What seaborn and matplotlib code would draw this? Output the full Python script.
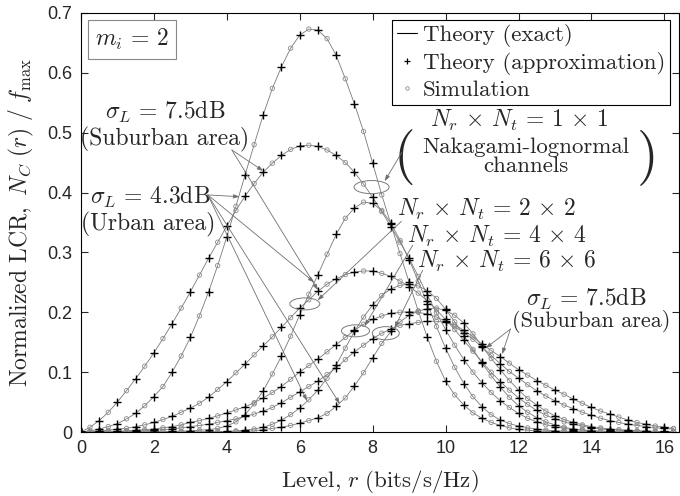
import numpy as np
import pandas as pd
import matplotlib
matplotlib.use("Agg")
import matplotlib.pyplot as plt
import seaborn as sns
from matplotlib.lines import Line2D
from matplotlib.patches import Ellipse

# ---------------- data ----------------
r_level = [round(0.25 * k, 2) for k in range(66)]  # 0 .. 16.25

lcr_1x1_urban = [0.0, 0.002, 0.005, 0.009, 0.014, 0.022, 0.031, 0.044, 0.059, 0.076,
                 0.100, 0.127, 0.158, 0.194, 0.234, 0.278, 0.326, 0.377, 0.429, 0.480,
                 0.530, 0.574, 0.610, 0.641, 0.663, 0.673, 0.671, 0.657, 0.629, 0.590,
                 0.548, 0.502, 0.449, 0.396, 0.347, 0.298, 0.250, 0.202, 0.158, 0.118,
                 0.085, 0.062, 0.045, 0.032, 0.023, 0.016, 0.011, 0.007, 0.0045, 0.003,
                 0.002, 0.001, 0.0007, 0.0005, 0.0003, 0.0002, 0.0001, 0.0001, 0.0001, 0.0,
                 0.0, 0.0, 0.0, 0.0, 0.0, 0.0]
lcr_1x1_suburban = [0.0, 0.008, 0.019, 0.033, 0.050, 0.069, 0.089, 0.110, 0.132, 0.156,
                    0.181, 0.207, 0.234, 0.262, 0.290, 0.317, 0.344, 0.370, 0.394, 0.415,
                    0.434, 0.449, 0.462, 0.472, 0.478, 0.479, 0.477, 0.471, 0.462, 0.450,
                    0.434, 0.414, 0.392, 0.368, 0.343, 0.317, 0.290, 0.260, 0.229, 0.199,
                    0.171, 0.145, 0.121, 0.100, 0.082, 0.066, 0.052, 0.041, 0.031, 0.023,
                    0.017, 0.012, 0.009, 0.006, 0.004, 0.003, 0.002, 0.0015, 0.001, 0.0007,
                    0.0005, 0.0003, 0.0002, 0.0001, 0.0001, 0.0]
lcr_2x2_urban = [0.0, 0.0, 0.0, 0.0, 0.0001, 0.0001, 0.0002, 0.0003, 0.0005, 0.0007,
                 0.001, 0.0015, 0.002, 0.003, 0.004, 0.006, 0.010, 0.017, 0.029, 0.047,
                 0.069, 0.097, 0.127, 0.160, 0.196, 0.230, 0.263, 0.297, 0.330, 0.357,
                 0.374, 0.384, 0.382, 0.370, 0.349, 0.320, 0.288, 0.252, 0.214, 0.176,
                 0.140, 0.108, 0.081, 0.059, 0.042, 0.029, 0.020, 0.014, 0.010, 0.007,
                 0.005, 0.003, 0.002, 0.0015, 0.001, 0.0007, 0.0005, 0.0003, 0.0002, 0.0001,
                 0.0001, 0.0, 0.0, 0.0, 0.0, 0.0]
lcr_2x2_suburban = [0.0, 0.001, 0.002, 0.003, 0.005, 0.006, 0.009, 0.012, 0.016, 0.021,
                    0.026, 0.033, 0.040, 0.048, 0.058, 0.071, 0.084, 0.099, 0.113, 0.129,
                    0.144, 0.159, 0.175, 0.191, 0.207, 0.221, 0.235, 0.247, 0.256, 0.263,
                    0.267, 0.269, 0.269, 0.265, 0.260, 0.252, 0.243, 0.232, 0.219, 0.204,
                    0.188, 0.171, 0.153, 0.135, 0.117, 0.100, 0.084, 0.070, 0.057, 0.046,
                    0.036, 0.028, 0.022, 0.017, 0.013, 0.010, 0.007, 0.005, 0.004, 0.003,
                    0.002, 0.0015, 0.001, 0.001, 0.0005, 0.0005]
lcr_4x4_urban = [0.0, 0.0, 0.0, 0.0, 0.0, 0.0, 0.0, 0.0, 0.0, 0.0,
                 0.0, 0.0, 0.0001, 0.0002, 0.0003, 0.0005, 0.001, 0.002, 0.003, 0.005,
                 0.008, 0.013, 0.020, 0.029, 0.040, 0.054, 0.070, 0.090, 0.112, 0.140,
                 0.168, 0.192, 0.212, 0.228, 0.239, 0.245, 0.247, 0.244, 0.236, 0.223,
                 0.205, 0.184, 0.161, 0.138, 0.115, 0.094, 0.075, 0.058, 0.044, 0.033,
                 0.024, 0.017, 0.012, 0.008, 0.005, 0.004, 0.002, 0.0015, 0.001, 0.0007,
                 0.0005, 0.0003, 0.0002, 0.0001, 0.0001, 0.0]
lcr_4x4_suburban = [0.0, 0.0003, 0.0006, 0.001, 0.0015, 0.002, 0.003, 0.004, 0.005, 0.007,
                    0.009, 0.012, 0.016, 0.019, 0.023, 0.027, 0.032, 0.037, 0.042, 0.049,
                    0.057, 0.066, 0.076, 0.088, 0.100, 0.111, 0.122, 0.134, 0.146, 0.158,
                    0.170, 0.180, 0.188, 0.194, 0.198, 0.200, 0.201, 0.200, 0.197, 0.192,
                    0.185, 0.176, 0.166, 0.155, 0.142, 0.128, 0.114, 0.101, 0.090, 0.079,
                    0.069, 0.060, 0.052, 0.045, 0.039, 0.033, 0.028, 0.023, 0.019, 0.016,
                    0.013, 0.011, 0.009, 0.007, 0.006, 0.005]
lcr_6x6_urban = [0.0, 0.0, 0.0, 0.0, 0.0, 0.0, 0.0, 0.0, 0.0, 0.0,
                 0.0, 0.0, 0.0, 0.0, 0.0001, 0.0002, 0.0004, 0.0007, 0.001, 0.002,
                 0.004, 0.006, 0.008, 0.011, 0.015, 0.019, 0.024, 0.031, 0.043, 0.057,
                 0.077, 0.099, 0.124, 0.148, 0.168, 0.184, 0.195, 0.202, 0.206, 0.207,
                 0.203, 0.195, 0.182, 0.164, 0.143, 0.123, 0.104, 0.086, 0.070, 0.056,
                 0.045, 0.035, 0.027, 0.021, 0.016, 0.012, 0.009, 0.007, 0.005, 0.004,
                 0.003, 0.002, 0.0015, 0.001, 0.001, 0.0005]
lcr_6x6_suburban = [0.0, 0.0001, 0.0002, 0.0004, 0.0007, 0.001, 0.0015, 0.002, 0.003, 0.004,
                    0.005, 0.007, 0.009, 0.011, 0.013, 0.016, 0.019, 0.022, 0.026, 0.030,
                    0.035, 0.041, 0.049, 0.058, 0.067, 0.076, 0.085, 0.096, 0.107, 0.121,
                    0.134, 0.145, 0.156, 0.165, 0.172, 0.178, 0.181, 0.183, 0.185, 0.185,
                    0.183, 0.179, 0.170, 0.159, 0.147, 0.136, 0.126, 0.115, 0.104, 0.095,
                    0.086, 0.078, 0.070, 0.063, 0.055, 0.048, 0.041, 0.035, 0.030, 0.025,
                    0.020, 0.016, 0.013, 0.010, 0.008, 0.006]

curves = {
    "1x1 U": lcr_1x1_urban, "1x1 S": lcr_1x1_suburban,
    "2x2 U": lcr_2x2_urban, "2x2 S": lcr_2x2_suburban,
    "4x4 U": lcr_4x4_urban, "4x4 S": lcr_4x4_suburban,
    "6x6 U": lcr_6x6_urban, "6x6 S": lcr_6x6_suburban,
}

rows = []
for name, vals in curves.items():
    assert len(vals) == len(r_level), name
    for k, (r, v) in enumerate(zip(r_level, vals)):
        rows.append({"curve": name, "r": r, "N": v, "k": k})
df = pd.DataFrame(rows)
df_plus = df[df["k"] % 2 == 0]
df_circ = df[df["k"] % 2 == 1]

# ---------------- style ----------------
sns.set_style("ticks")
plt.rcParams["font.family"] = ["Liberation Sans", "DejaVu Sans"]
plt.rcParams["mathtext.fontset"] = "cm"
plt.rcParams["axes.linewidth"] = 0.8

fig = plt.figure(figsize=(6.8, 4.96), dpi=100)
ax = fig.add_axes([0.119, 0.129, 0.8795, 0.845])

LINE_C = "#7a7a7a"
sns.lineplot(data=df, x="r", y="N", units="curve", estimator=None, color=LINE_C,
             lw=0.6, ax=ax, legend=False, sort=True, zorder=2)
sns.scatterplot(data=df_circ, x="r", y="N", marker="o", s=10, facecolors="none",
                edgecolors="#8c8c8c", linewidth=0.6, ax=ax, legend=False, zorder=3)
sns.scatterplot(data=df_plus, x="r", y="N", marker="+", s=30, color="black",
                linewidth=1.0, ax=ax, legend=False, zorder=4)

ax.set_xlim(0, 16.4)
ax.set_ylim(0, 0.7)
ax.set_xticks(range(0, 17, 2))
ax.set_yticks([0, 0.1, 0.2, 0.3, 0.4, 0.5, 0.6, 0.7])
ax.set_yticklabels(["0", "0.1", "0.2", "0.3", "0.4", "0.5", "0.6", "0.7"])
ax.tick_params(direction="in", top=True, right=True, length=5, width=0.8,
               labelsize=13, pad=6)
for s in ax.spines.values():
    s.set_color("black")

ax.set_xlabel(r"$\mathrm{Level,}\,r\ \mathrm{(bits/s/Hz)}$", fontsize=16.5, labelpad=8)
ax.set_ylabel(r"$\mathrm{Normalized\ LCR,}\ N_C\ (r)\ /\ f_{\max}$", fontsize=17, labelpad=8)

# legend
handles = [
    Line2D([], [], color="black", lw=0.8),
    Line2D([], [], color="black", lw=0, marker="+", ms=4, mew=0.9),
    Line2D([], [], color="#8c8c8c", lw=0, marker="o", ms=2.5, mfc="none", mew=0.6),
]
leg = ax.legend(handles, ["Theory (exact)", "Theory (approximation)", "Simulation"],
                loc="upper right", bbox_to_anchor=(0.985, 0.984),
                prop={"family": "cmr10", "size": 16.5}, frameon=True, fancybox=False,
                edgecolor="black", framealpha=1, borderpad=0.2, labelspacing=0.22,
                handlelength=0.9, handletextpad=0.25, borderaxespad=0)
leg.get_frame().set_linewidth(0.8)

# m_i box
ax.text(1.40, 0.656, r"$m_i\,=\,2$", fontsize=17, ha="center", va="center",
        bbox=dict(boxstyle="square,pad=0.3", fc="white", ec="#888888", lw=0.8))

FS = 17
TXT = dict(fontsize=FS, ha="center", va="center")
ax.text(2.30, 0.534, r"$\sigma_L\,=\,7.5\mathrm{dB}$", **TXT)
ax.text(2.30, 0.489, "(Suburban area)", family="cmr10", **TXT)
ax.text(1.89, 0.392, r"$\sigma_L\,=\,4.3\mathrm{dB}$", **TXT)
ax.text(1.84, 0.347, "(Urban area)", family="cmr10", **TXT)

NXN = r"$N_r\,\times\,N_t\,=\,%d\,\times\,%d$"
ax.text(12.03, 0.521, NXN % (1, 1), **TXT)
ax.text(12.19, 0.460, "Nakagami-lognormal\nchannels", family="cmr10",
        linespacing=0.95, fontsize=16.5, ha="center", va="center")
ax.text(8.86, 0.459, "(", family="cmr10", fontsize=40, ha="center", va="center")
ax.text(15.55, 0.459, ")", family="cmr10", fontsize=40, ha="center", va="center")
ax.text(11.12, 0.372, NXN % (2, 2), **TXT)
ax.text(11.42, 0.327, NXN % (4, 4), **TXT)
ax.text(11.69, 0.284, NXN % (6, 6), **TXT)
ax.text(13.86, 0.222, r"$\sigma_L\,=\,7.5\mathrm{dB}$", **TXT)
ax.text(11.82, 0.184, "(Suburban area)", family="cmr10", fontsize=16,
        ha="left", va="center")

# ellipses
EC = "#7a7a7a"
for (cx, cy, w, h) in [(7.97, 0.409, 0.96, 0.022), (6.14, 0.214, 0.82, 0.020),
                       (7.53, 0.169, 0.77, 0.020), (8.36, 0.165, 0.74, 0.022)]:
    ax.add_patch(Ellipse((cx, cy), w, h, fill=False, ec=EC, lw=0.7, zorder=5))

ARW = dict(arrowstyle="-|>,head_length=0.35,head_width=0.12", color="#707070",
           lw=0.6, shrinkA=0, shrinkB=0)
def pointer(start, end):
    ax.annotate("", xy=end, xytext=start, arrowprops=ARW, zorder=5)

pointer((8.80, 0.467), (8.33, 0.419))
pointer((8.79, 0.352), (6.49, 0.220))
pointer((9.10, 0.312), (7.78, 0.177))
pointer((9.37, 0.270), (8.60, 0.174))
# right suburban label
pointer((11.78, 0.172), (11.10, 0.140))
pointer((11.78, 0.172), (11.55, 0.130))
# left suburban label
pointer((4.14, 0.471), (5.00, 0.436))
pointer((4.14, 0.471), (6.50, 0.237))
# left urban label
pointer((3.48, 0.396), (4.35, 0.393))
pointer((3.48, 0.396), (6.40, 0.250))
pointer((3.48, 0.396), (6.20, 0.052))
pointer((3.48, 0.396), (7.10, 0.047))

fig.savefig("out.png", dpi=100, facecolor="white")
